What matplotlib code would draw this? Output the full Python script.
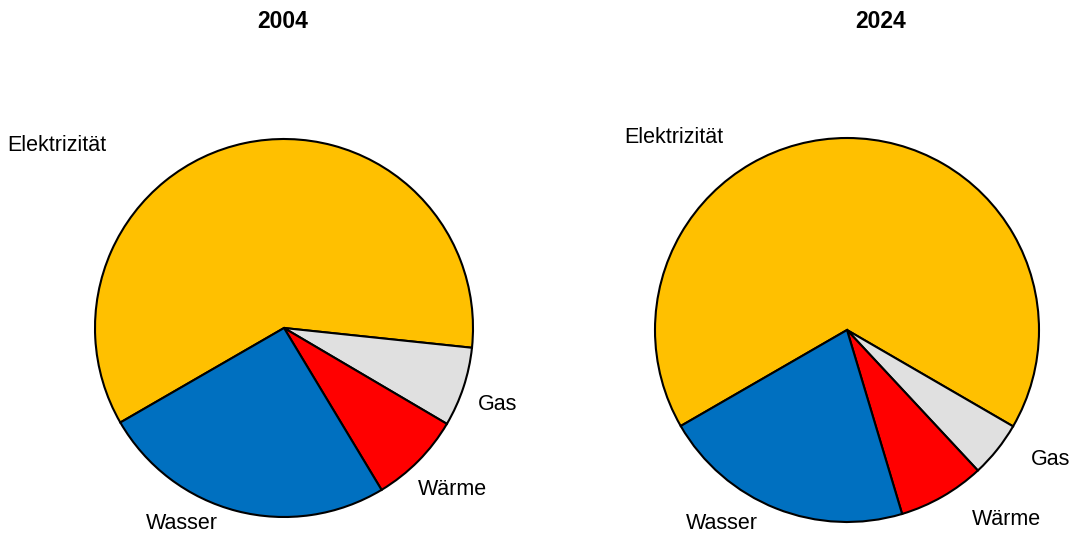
import matplotlib.pyplot as plt

plt.rcParams['font.family'] = ['Liberation Sans', 'DejaVu Sans']

# shares in percent
categories = ['Elektrizität', 'Gas', 'Wärme', 'Wasser']
share_2004 = [60.0, 6.8, 7.9, 25.3]
share_2024 = [66.7, 4.7, 7.3, 21.3]
colors = ['#FFC000', '#E0E0E0', '#FF0000', '#0070C0']

# label spots (in pie units, radius = 1)
label_pos_2004 = [(-1.20, 0.965), (1.13, -0.405), (0.89, -0.855), (-0.54, -1.035)]
label_pos_2024 = [(-0.90, 1.005), (1.06, -0.675), (0.83, -0.985), (-0.65, -1.01)]

fig = plt.figure(figsize=(10.72, 5.35), dpi=100)
W, H = 1072, 535


def draw_pie(cx, cy, r, values, label_pos, title, title_x):
    ax = fig.add_axes([(cx - r) / W, (H - cy - r) / H, 2 * r / W, 2 * r / H])
    wedges, texts = ax.pie(values, labels=categories, colors=colors,
                           startangle=210, counterclock=False, radius=1,
                           wedgeprops=dict(edgecolor='black', linewidth=1.5))
    for w in wedges:
        w.set_clip_on(False)
    for t, (x, y) in zip(texts, label_pos):
        t.set_position((x, y))
        t.set_ha('center')
        t.set_va('center')
        t.set_fontsize(15.5)
        t.set_clip_on(False)
    ax.set_xlim(-1, 1)
    ax.set_ylim(-1, 1)
    ax.axis('off')
    fig.text(title_x / W, 1 - 21 / H, title, ha='center', va='center',
             fontsize=16.5, fontweight='bold')


draw_pie(284, 328, 189, share_2004, label_pos_2004, '2004', 283)
draw_pie(847, 330, 192, share_2024, label_pos_2024, '2024', 881)

fig.savefig('out.png', dpi=100)
